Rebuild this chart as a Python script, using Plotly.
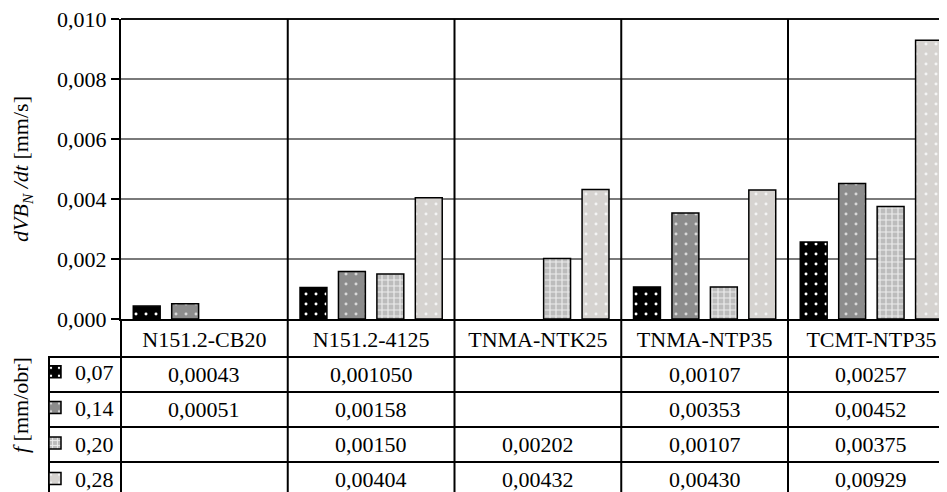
import plotly.graph_objects as go

# ---------------- data ----------------
categories = ["N151.2-CB20", "N151.2-4125", "TNMA-NTK25", "TNMA-NTP35", "TCMT-NTP35"]
feed_labels = ["0,07", "0,14", "0,20", "0,28"]

wear_f007 = [0.00043, 0.001050, None, 0.00107, 0.00257]
wear_f014 = [0.00051, 0.00158, None, 0.00353, 0.00452]
wear_f020 = [None, 0.00150, 0.00202, 0.00107, 0.00375]
wear_f028 = [None, 0.00404, 0.00432, 0.00430, 0.00929]

table_f007 = ["0,00043", "0,001050", "", "0,00107", "0,00257"]
table_f014 = ["0,00051", "0,00158", "", "0,00353", "0,00452"]
table_f020 = ["", "0,00150", "0,00202", "0,00107", "0,00375"]
table_f028 = ["", "0,00404", "0,00432", "0,00430", "0,00929"]

y_ticks = [0.000, 0.002, 0.004, 0.006, 0.008, 0.010]

series = [wear_f007, wear_f014, wear_f020, wear_f028]
tables = [table_f007, table_f014, table_f020, table_f028]

# ---------------- layout constants (screen px) ----------------
OFF = 8                               # default page body margin
SW, SH = 947, 492                     # screen size
W, H = SW - OFF, SH - OFF             # figure size
PL, PT, PB_PX = 121, 19, 319          # plot left, top, bottom (screen px)
PW = SW - PL                          # plot width (right edge cut)
PH = PB_PX - PT
CAT_PX = 166.75                       # width of one category (px)
XMIN = -0.5
XMAX = XMIN + PW / CAT_PX
ROW_TOP = 357
ROW_H = 35

FONT = "Liberation Serif"
FS = 22


def yp(py):
    return (PB_PX - py) / PH


def xp_px(px):
    return (px - PL) / PW


def xp_val(v):
    return (v - XMIN) / (XMAX - XMIN)


styles = [
    dict(bg="#000000", fg="#ffffff", shape=".", size=10, sol=0.07),
    dict(bg="#8c8c8c", fg="#d8d8d8", shape=".", size=10, sol=0.07),
    dict(bg="#bcbcbc", fg="#ededed", shape="+", size=6, sol=0.35),
    dict(bg="#d6d3d0", fg="#f4f4f4", shape=".", size=10, sol=0.07),
]

fig = go.Figure()
for k, (vals, name, st) in enumerate(zip(series, feed_labels, styles)):
    fig.add_trace(go.Bar(
        x=categories, y=vals, name=name, legendgroup=name,
        marker=dict(
            color=st["bg"],
            line=dict(color="#000000", width=1.5),
            pattern=dict(shape=st["shape"], bgcolor=st["bg"], fgcolor=st["fg"],
                         size=st["size"], solidity=st["sol"], fillmode="replace"),
        ),
        hoverinfo="skip",
    ))

shapes = []
# top border of plot
shapes.append(dict(type="line", xref="paper", yref="paper", x0=0, x1=1.02, y0=1, y1=1,
                   line=dict(color="#111111", width=2)))
# category dividers (from top through table)
for i in range(len(categories)):
    xv = xp_val(i - 0.5)
    y_top = 1 if i > 0 else 0
    shapes.append(dict(type="line", xref="paper", yref="paper", x0=xv, x1=xv,
                       y0=y_top, y1=yp(SH + 5), line=dict(color="#000000", width=2)))
# table horizontal lines
for r in range(4):
    yy = yp(ROW_TOP + r * ROW_H)
    shapes.append(dict(type="line", xref="paper", yref="paper", x0=xp_px(48), x1=1.02,
                       y0=yy, y1=yy, line=dict(color="#000000", width=2)))
# left border of legend column
shapes.append(dict(type="line", xref="paper", yref="paper", x0=xp_px(49), x1=xp_px(49),
                   y0=yp(ROW_TOP), y1=yp(SH + 5), line=dict(color="#000000", width=2)))

annotations = []
for r, tab in enumerate(tables):
    yc = yp(ROW_TOP + r * ROW_H + ROW_H / 2)
    for c, txt in zip(categories, tab):
        if txt:
            annotations.append(dict(x=c, xref="x", y=yc, yref="paper", text=txt,
                                    showarrow=False, xanchor="center", yanchor="middle",
                                    font=dict(family=FONT, size=FS, color="#000000")))
annotations.append(dict(x=xp_px(20), xref="paper", y=yp(405), yref="paper",
                        text="<i>f</i> [mm/obr]", textangle=-90, showarrow=False,
                        xanchor="center", yanchor="middle",
                        font=dict(family=FONT, size=FS, color="#000000")))

fig.update_layout(
    width=W, height=H,
    margin=dict(l=PL - OFF, r=0, t=PT - OFF, b=SH - PB_PX, autoexpand=False),
    paper_bgcolor="#ffffff", plot_bgcolor="#ffffff",
    font=dict(family=FONT, size=FS, color="#000000"),
    separators=", ",
    barmode="group", bargap=0.078, bargroupgap=0.30,
    showlegend=True,
    legend=dict(x=xp_px(35), xanchor="left", y=yp(351), yanchor="top",
                bgcolor="rgba(0,0,0,0)", borderwidth=0, tracegroupgap=4,
                traceorder="grouped", font=dict(family=FONT, size=FS)),
    shapes=shapes,
    annotations=annotations,
    xaxis=dict(type="category", categoryorder="array", categoryarray=categories,
               range=[XMIN, XMAX], showline=True, linecolor="#000000", linewidth=2,
               ticks="", showgrid=False, zeroline=False, ticklabelstandoff=0,
               tickfont=dict(family=FONT, size=FS)),
    yaxis=dict(range=[0, 0.010], tickvals=y_ticks, tickformat=".3f",
               ticklabeloverflow="allow",
               showgrid=True, gridcolor="#7a7a7a", gridwidth=1.5,
               showline=True, linecolor="#000000", linewidth=2,
               ticks="outside", ticklen=8, tickcolor="#000000", tickwidth=1.5,
               zeroline=False, tickfont=dict(family=FONT, size=FS),
               title=dict(text="<i>dVB</i><sub><i>N</i></sub><i> /dt</i> [mm/s]",
                          standoff=36, font=dict(family=FONT, size=FS))),
)

fig.write_html("out.html")
